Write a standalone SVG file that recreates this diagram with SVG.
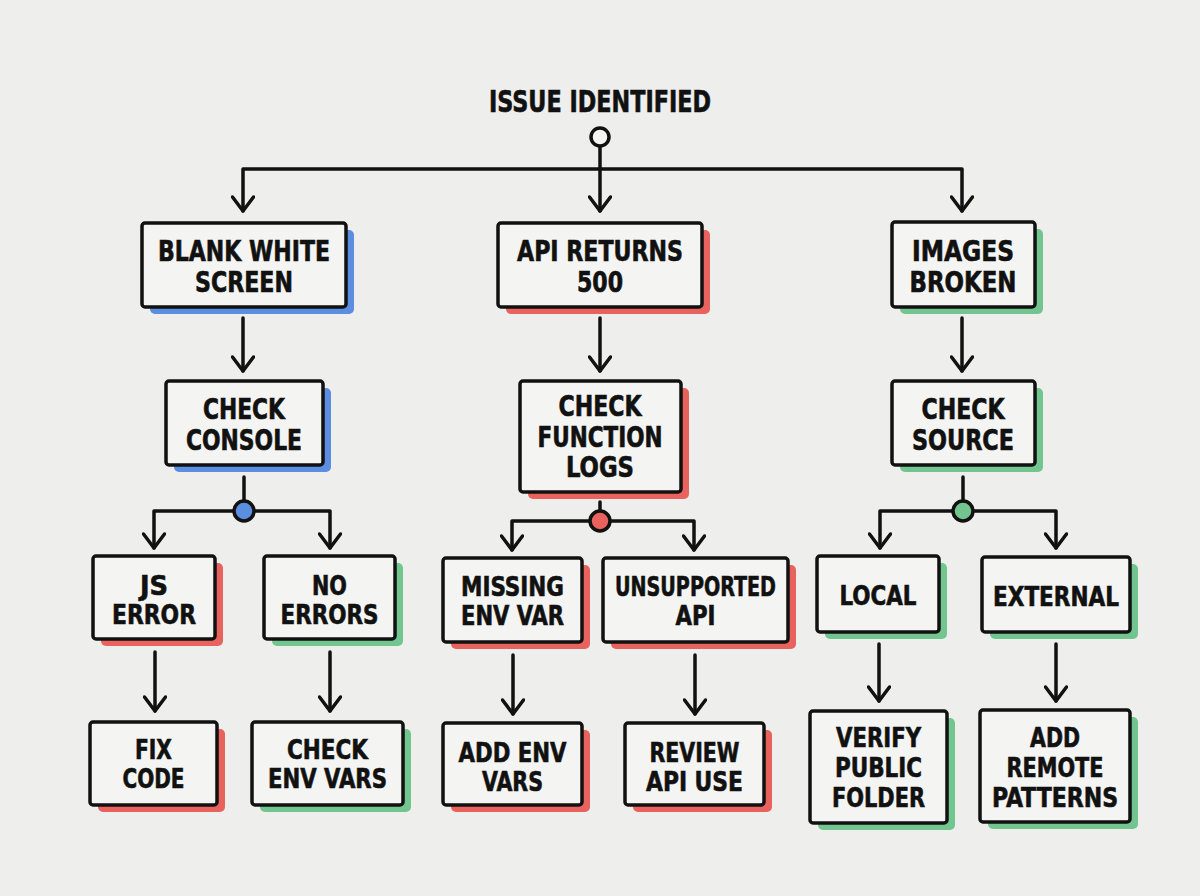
<svg xmlns="http://www.w3.org/2000/svg" width="1200" height="896" viewBox="0 0 1200 896">
<defs>
<style>
.bg{fill:#eeeeec}
.box{fill:#f4f4f2;stroke:#111;stroke-width:3.5;stroke-linejoin:round}
.sb{fill:#5b8ee0}
.sr{fill:#e8625e}
.sg{fill:#72c58f}
.t{font-family:"Liberation Sans Narrow","DejaVu Sans Condensed","Liberation Sans",sans-serif;font-weight:bold;fill:#111;stroke:#111;stroke-width:0.6;text-anchor:middle}
.l0{font-size:30px}
.l1{font-size:28px}
.l2{font-size:28px}
.l3{font-size:27px}
.ln{fill:none;stroke:#111;stroke-width:3.5;stroke-linecap:round;stroke-linejoin:round}
.dot{stroke:#111;stroke-width:3.5}
</style>
<marker id="ah" viewBox="0 0 18 24" markerWidth="18" markerHeight="24" refX="16" refY="12" orient="auto-start-reverse" markerUnits="userSpaceOnUse">
<path d="M2,1.5 L16,12 L2,22.5" fill="none" stroke="#111" stroke-width="3.5" stroke-linecap="round" stroke-linejoin="round"/>
</marker>
</defs>
<rect class="bg" x="0" y="0" width="1200" height="896"/>

<g id="title">
<text class="t l0" x="600" y="112" textLength="222" lengthAdjust="spacingAndGlyphs">ISSUE IDENTIFIED</text>
</g>

<g id="connectors">
<path class="ln" d="M600,146 V211" marker-end="url(#ah)"/>
<path class="ln" d="M243,211 V169 H962 V211" marker-start="url(#ah)" marker-end="url(#ah)"/>
<path class="ln" d="M243,318 V371" marker-end="url(#ah)"/>
<path class="ln" d="M600,318 V371" marker-end="url(#ah)"/>
<path class="ln" d="M962,318 V371" marker-end="url(#ah)"/>
<path class="ln" d="M244,477 V511"/>
<path class="ln" d="M154,548 V511 H330 V548" marker-start="url(#ah)" marker-end="url(#ah)"/>
<path class="ln" d="M600,502 V521"/>
<path class="ln" d="M512,550 V521 H694 V550" marker-start="url(#ah)" marker-end="url(#ah)"/>
<path class="ln" d="M963,477 V511"/>
<path class="ln" d="M880,548 V511 H1056 V548" marker-start="url(#ah)" marker-end="url(#ah)"/>
<path class="ln" d="M155,652 V711" marker-end="url(#ah)"/>
<path class="ln" d="M330,652 V711" marker-end="url(#ah)"/>
<path class="ln" d="M513,655 V714" marker-end="url(#ah)"/>
<path class="ln" d="M695,655 V714" marker-end="url(#ah)"/>
<path class="ln" d="M879,644 V701" marker-end="url(#ah)"/>
<path class="ln" d="M1056,644 V701" marker-end="url(#ah)"/>
<circle class="dot" cx="600" cy="137" r="9" fill="#f4f4f2"/>
<circle class="dot" cx="244" cy="511" r="10" fill="#5b8ee0"/>
<circle class="dot" cx="600" cy="521" r="10" fill="#e8625e"/>
<circle class="dot" cx="963" cy="511" r="10" fill="#72c58f"/>
</g>

<g id="blank-white-screen">
<rect class="sb" x="150" y="230" width="204" height="84" rx="5"/>
<rect class="box" x="142" y="223" width="204" height="84" rx="3"/>
<text class="t l1"><tspan x="244" y="261" textLength="172" lengthAdjust="spacingAndGlyphs">BLANK WHITE</tspan><tspan x="244" y="292" textLength="98" lengthAdjust="spacingAndGlyphs">SCREEN</tspan></text>
</g>

<g id="api-returns-500">
<rect class="sr" x="506" y="230" width="204" height="84" rx="5"/>
<rect class="box" x="498" y="223" width="204" height="84" rx="3"/>
<text class="t l1"><tspan x="600" y="261" textLength="166" lengthAdjust="spacingAndGlyphs">API RETURNS</tspan><tspan x="600" y="292" textLength="46" lengthAdjust="spacingAndGlyphs">500</tspan></text>
</g>

<g id="images-broken">
<rect class="sg" x="900" y="229" width="143" height="85" rx="5"/>
<rect class="box" x="892" y="222" width="143" height="85" rx="3"/>
<text class="t l1"><tspan x="963" y="261" textLength="102" lengthAdjust="spacingAndGlyphs">IMAGES</tspan><tspan x="963" y="292" textLength="107" lengthAdjust="spacingAndGlyphs">BROKEN</tspan></text>
</g>

<g id="check-console">
<rect class="sb" x="174" y="388" width="157" height="84" rx="5"/>
<rect class="box" x="166" y="381" width="157" height="84" rx="3"/>
<text class="t l2"><tspan x="244" y="419" textLength="82" lengthAdjust="spacingAndGlyphs">CHECK</tspan><tspan x="244" y="450" textLength="116" lengthAdjust="spacingAndGlyphs">CONSOLE</tspan></text>
</g>

<g id="check-function-logs">
<rect class="sr" x="528" y="388" width="161" height="111" rx="5"/>
<rect class="box" x="520" y="381" width="161" height="111" rx="3"/>
<text class="t l2"><tspan x="600" y="416" textLength="83" lengthAdjust="spacingAndGlyphs">CHECK</tspan><tspan x="600" y="446.5" textLength="125" lengthAdjust="spacingAndGlyphs">FUNCTION</tspan><tspan x="600" y="477" textLength="68" lengthAdjust="spacingAndGlyphs">LOGS</tspan></text>
</g>

<g id="check-source">
<rect class="sg" x="900" y="388" width="143" height="84" rx="5"/>
<rect class="box" x="892" y="381" width="143" height="84" rx="3"/>
<text class="t l2"><tspan x="963" y="419" textLength="83" lengthAdjust="spacingAndGlyphs">CHECK</tspan><tspan x="963" y="450" textLength="102" lengthAdjust="spacingAndGlyphs">SOURCE</tspan></text>
</g>

<g id="js-error">
<rect class="sr" x="101" y="563" width="122" height="83" rx="5"/>
<rect class="box" x="93" y="556" width="122" height="83" rx="3"/>
<text class="t l3"><tspan x="154" y="595" textLength="28" lengthAdjust="spacingAndGlyphs">JS</tspan><tspan x="154" y="624" textLength="84" lengthAdjust="spacingAndGlyphs">ERROR</tspan></text>
</g>

<g id="no-errors">
<rect class="sg" x="272" y="563" width="131" height="83" rx="5"/>
<rect class="box" x="264" y="556" width="131" height="83" rx="3"/>
<text class="t l3"><tspan x="329.5" y="595" textLength="35" lengthAdjust="spacingAndGlyphs">NO</tspan><tspan x="329.5" y="624" textLength="98" lengthAdjust="spacingAndGlyphs">ERRORS</tspan></text>
</g>

<g id="missing-env-var">
<rect class="sr" x="451" y="565" width="139" height="84" rx="5"/>
<rect class="box" x="443" y="558" width="139" height="84" rx="3"/>
<text class="t l3"><tspan x="512.5" y="596" textLength="103" lengthAdjust="spacingAndGlyphs">MISSING</tspan><tspan x="512.5" y="625" textLength="103" lengthAdjust="spacingAndGlyphs">ENV VAR</tspan></text>
</g>

<g id="unsupported-api">
<rect class="sr" x="611" y="565" width="185" height="84" rx="5"/>
<rect class="box" x="603" y="558" width="185" height="84" rx="3"/>
<text class="t l3"><tspan x="695.5" y="596" textLength="161" lengthAdjust="spacingAndGlyphs">UNSUPPORTED</tspan><tspan x="695.5" y="625" textLength="40" lengthAdjust="spacingAndGlyphs">API</tspan></text>
</g>

<g id="local">
<rect class="sg" x="825" y="563" width="122" height="76" rx="5"/>
<rect class="box" x="817" y="556" width="122" height="76" rx="3"/>
<text class="t l3" x="878" y="605" textLength="77" lengthAdjust="spacingAndGlyphs">LOCAL</text>
</g>

<g id="external">
<rect class="sg" x="990" y="564" width="148" height="75" rx="5"/>
<rect class="box" x="982" y="557" width="148" height="75" rx="3"/>
<text class="t l3" x="1056" y="606" textLength="126" lengthAdjust="spacingAndGlyphs">EXTERNAL</text>
</g>

<g id="fix-code">
<rect class="sr" x="98" y="729" width="127" height="83" rx="5"/>
<rect class="box" x="90" y="722" width="127" height="83" rx="3"/>
<text class="t l3"><tspan x="153.5" y="759" textLength="37" lengthAdjust="spacingAndGlyphs">FIX</tspan><tspan x="153.5" y="788" textLength="62" lengthAdjust="spacingAndGlyphs">CODE</tspan></text>
</g>

<g id="check-env-vars">
<rect class="sg" x="260" y="729" width="151" height="83" rx="5"/>
<rect class="box" x="252" y="722" width="151" height="83" rx="3"/>
<text class="t l3"><tspan x="327.5" y="759" textLength="81" lengthAdjust="spacingAndGlyphs">CHECK</tspan><tspan x="327.5" y="788" textLength="119" lengthAdjust="spacingAndGlyphs">ENV VARS</tspan></text>
</g>

<g id="add-env-vars">
<rect class="sr" x="451" y="730" width="139" height="82" rx="5"/>
<rect class="box" x="443" y="723" width="139" height="82" rx="3"/>
<text class="t l3"><tspan x="512.5" y="762" textLength="108" lengthAdjust="spacingAndGlyphs">ADD ENV</tspan><tspan x="512.5" y="791" textLength="61" lengthAdjust="spacingAndGlyphs">VARS</tspan></text>
</g>

<g id="review-api-use">
<rect class="sr" x="633" y="730" width="139" height="82" rx="5"/>
<rect class="box" x="625" y="723" width="139" height="82" rx="3"/>
<text class="t l3"><tspan x="694.5" y="762" textLength="90" lengthAdjust="spacingAndGlyphs">REVIEW</tspan><tspan x="694.5" y="791" textLength="97" lengthAdjust="spacingAndGlyphs">API USE</tspan></text>
</g>

<g id="verify-public-folder">
<rect class="sg" x="818" y="718" width="137" height="112" rx="5"/>
<rect class="box" x="810" y="711" width="137" height="112" rx="3"/>
<text class="t l3"><tspan x="878.5" y="747" textLength="85" lengthAdjust="spacingAndGlyphs">VERIFY</tspan><tspan x="878.5" y="777" textLength="87" lengthAdjust="spacingAndGlyphs">PUBLIC</tspan><tspan x="878.5" y="807" textLength="93" lengthAdjust="spacingAndGlyphs">FOLDER</tspan></text>
</g>

<g id="add-remote-patterns">
<rect class="sg" x="988" y="717" width="150" height="112" rx="5"/>
<rect class="box" x="980" y="710" width="150" height="112" rx="3"/>
<text class="t l3"><tspan x="1055" y="747" textLength="50" lengthAdjust="spacingAndGlyphs">ADD</tspan><tspan x="1055" y="777" textLength="97" lengthAdjust="spacingAndGlyphs">REMOTE</tspan><tspan x="1055" y="807" textLength="126" lengthAdjust="spacingAndGlyphs">PATTERNS</tspan></text>
</g>
</svg>
